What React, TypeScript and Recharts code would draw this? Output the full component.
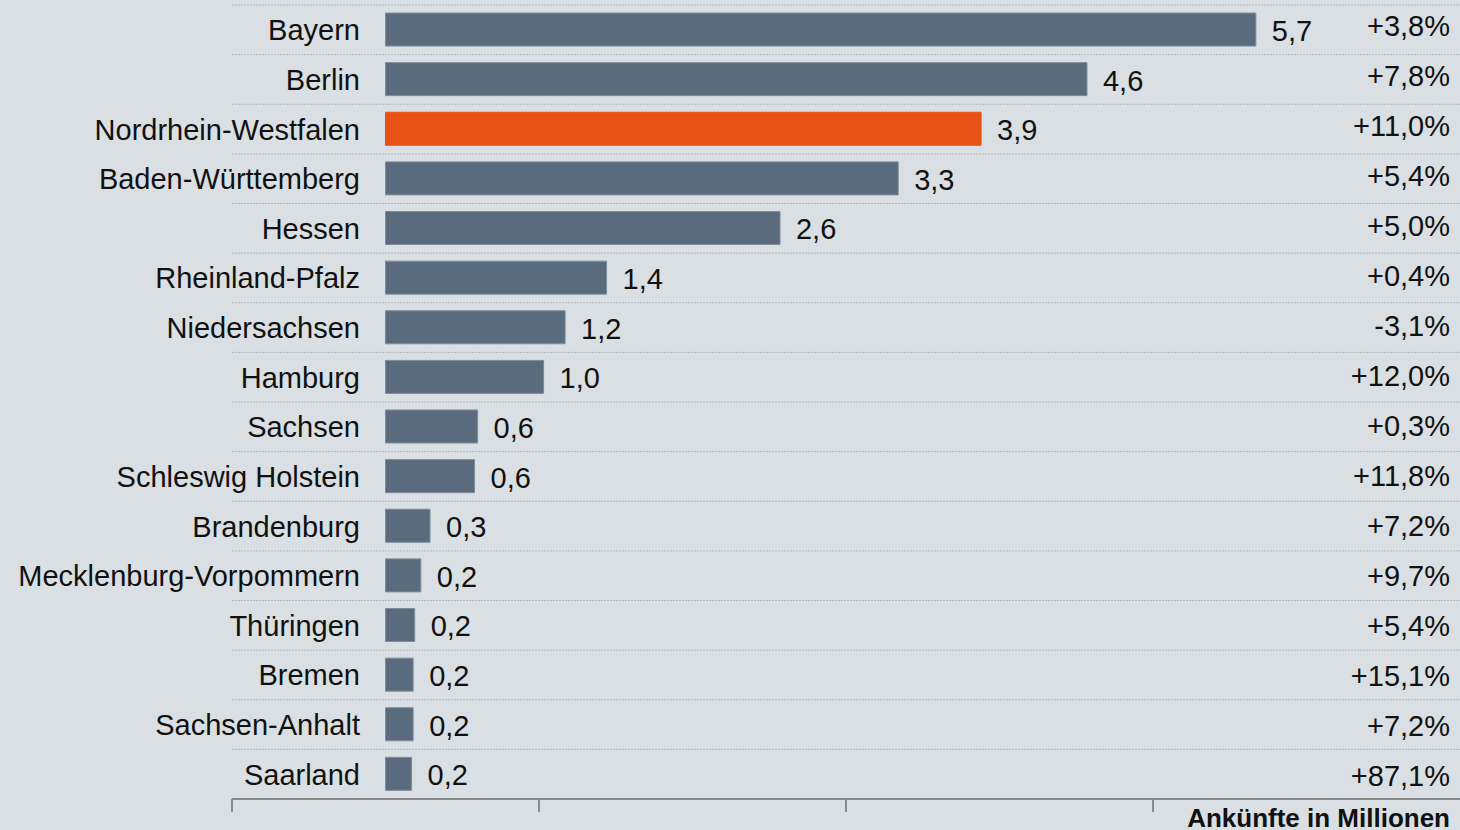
import { BarChart, Bar, XAxis, YAxis, CartesianGrid, Cell, LabelList, Label } from 'recharts'

const states = [
  'Bayern', 'Berlin', 'Nordrhein-Westfalen', 'Baden-Württemberg', 'Hessen', 'Rheinland-Pfalz',
  'Niedersachsen', 'Hamburg', 'Sachsen', 'Schleswig Holstein', 'Brandenburg',
  'Mecklenburg-Vorpommern', 'Thüringen', 'Bremen', 'Sachsen-Anhalt', 'Saarland',
]
// Ankünfte in Millionen (bar lengths)
const arrivals = [5.67, 4.57, 3.88, 3.34, 2.57, 1.44, 1.17, 1.03, 0.6, 0.58, 0.29, 0.23, 0.19, 0.18, 0.18, 0.17]
const arrivalLabels = ['5,7', '4,6', '3,9', '3,3', '2,6', '1,4', '1,2', '1,0', '0,6', '0,6', '0,3', '0,2', '0,2', '0,2', '0,2', '0,2']
const changes = [
  '+3,8%', '+7,8%', '+11,0%', '+5,4%', '+5,0%', '+0,4%', '-3,1%', '+12,0%', '+0,3%', '+11,8%',
  '+7,2%', '+9,7%', '+5,4%', '+15,1%', '+7,2%', '+87,1%',
]
const highlight = 'Nordrhein-Westfalen'
const xTicks = [-1, 1, 3, 5]

const data = states.map((name, i) => ({
  name,
  value: arrivals[i],
  label: arrivalLabels[i],
  pct: changes[i],
}))

const W = 1460
const H = 830
const FONT = 'Liberation Sans, Arial, sans-serif'
const FS = 29
const BG = '#d9dfe2'
const BAR = '#5b6b7e'
const ORANGE = '#e85217'

function StateTick(props: any) {
  const { x, y, payload } = props
  return (
    <text x={x + 136} y={y} dy="0.36em" textAnchor="end" fontSize={FS} fontFamily={FONT} fill="#111">
      {payload.value}
    </text>
  )
}

function ValueLabel(props: any) {
  const { x, y, width, height, value } = props
  return (
    <text x={x + width + 16} y={y + height / 2 + 1} dy="0.36em" fontSize={FS} fontFamily={FONT} fill="#111">
      {value}
    </text>
  )
}

// percentage column sits flush right, its rows drift slightly against the bars
function PctLabel(props: any) {
  const { y, height, value, index } = props
  return (
    <text x={W - 10} y={y + height / 2 - 4 + index * 0.4} dy="0.36em" textAnchor="end" fontSize={FS} fontFamily={FONT} fill="#111">
      {value}
    </text>
  )
}

export default function App() {
  const rows = states.length
  return (
    <div style={{ position: 'absolute', left: 0, top: 0, width: W, height: H, background: BG }}>
      <BarChart
        width={W}
        height={H}
        data={data}
        layout="vertical"
        margin={{ top: 5, right: 0, bottom: 0, left: 0 }}
        barCategoryGap={0}
      >
        <CartesianGrid
          vertical={false}
          stroke="#b3b8bc"
          strokeDasharray="2 1"
          horizontalCoordinatesGenerator={({ offset }: any) =>
            Array.from({ length: rows }, (_, i) => offset.top + (i * offset.height) / rows)
          }
        />
        <XAxis
          type="number"
          domain={[-1, 7]}
          ticks={xTicks}
          height={31}
          tick={() => <g />}
          tickSize={13}
          axisLine={{ stroke: '#8a8a8a', strokeWidth: 2 }}
          tickLine={{ stroke: '#8a8a8a', strokeWidth: 2 }}
        >
          <Label
            content={({ viewBox }: any) => (
              <text
                x={viewBox.x + viewBox.width - 10}
                y={viewBox.y + 28}
                textAnchor="end"
                fontSize={26}
                fontWeight="bold"
                fontFamily={FONT}
                fill="#111"
              >
                Ankünfte in Millionen
              </text>
            )}
          />
        </XAxis>
        <YAxis
          type="category"
          dataKey="name"
          width={232}
          axisLine={false}
          tickLine={false}
          interval={0}
          tick={<StateTick />}
        />
        <Bar dataKey="value" barSize={33} isAnimationActive={false}>
          {data.map((d) => (
            <Cell key={d.name} fill={d.name === highlight ? ORANGE : BAR} stroke={d.name === highlight ? ORANGE : '#7d8b9b'} strokeWidth={1} />
          ))}
          <LabelList dataKey="label" content={<ValueLabel />} />
          <LabelList dataKey="pct" content={<PctLabel />} />
        </Bar>
      </BarChart>
    </div>
  )
}
